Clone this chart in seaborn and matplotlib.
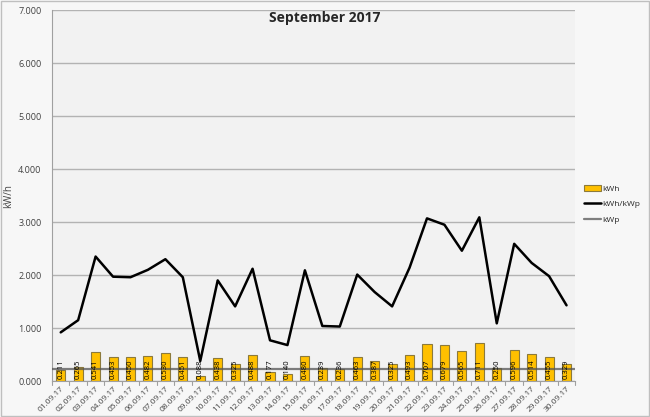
import numpy as np
import pandas as pd
import seaborn as sns
import matplotlib.pyplot as plt
from matplotlib.ticker import FuncFormatter, MultipleLocator
from matplotlib.patches import Patch
from matplotlib.lines import Line2D

days = [f"{d:02d}.09.17" for d in range(1, 31)]
kwh = [0.211, 0.265, 0.541, 0.453, 0.450, 0.482, 0.530, 0.451, 0.088, 0.438,
       0.325, 0.488, 0.177, 0.140, 0.480, 0.239, 0.236, 0.463, 0.387, 0.325,
       0.493, 0.707, 0.679, 0.565, 0.711, 0.250, 0.596, 0.514, 0.455, 0.329]
kwh_kwp = [0.92, 1.15, 2.35, 1.97, 1.96, 2.10, 2.30, 1.96, 0.38, 1.90,
           1.41, 2.12, 0.77, 0.68, 2.09, 1.04, 1.03, 2.01, 1.68, 1.41,
           2.14, 3.07, 2.95, 2.46, 3.09, 1.09, 2.59, 2.23, 1.98, 1.43]
kwp = 0.23

df = pd.DataFrame({"day": days, "kWh": kwh, "kWh/kWp": kwh_kwp})
df["pos"] = np.arange(len(df))

sns.set_style("white")
plt.rcParams["font.family"] = ["Open Sans", "DejaVu Sans"]

fig = plt.figure(figsize=(6.5, 4.17), dpi=100, facecolor="#f7f7f7")
ax = fig.add_axes([0.08, 0.086, 0.805, 0.89])
ax.set_facecolor("#f2f2f2")

# grid first so the marks sit above it
ax.set_axisbelow(True)
ax.yaxis.grid(True, color="#b3b3b3", linewidth=1)

sns.barplot(data=df, x="day", y="kWh", color="#ffc000", width=0.52,
            edgecolor="#8c7a3c", linewidth=0.8, saturation=1, ax=ax, zorder=2)

ax.axhline(kwp, color="#555555", linewidth=1.6, alpha=0.75, zorder=3)

sns.lineplot(data=df, x="pos", y="kWh/kWp", color="black", linewidth=1.8,
             ax=ax, zorder=4)

# data labels, rotated, from the bar base upward
for i, v in enumerate(kwh):
    ax.text(i, 0.04, f"{v:.3f}", rotation=90, ha="center", va="bottom",
            fontsize=5.5, color="black", zorder=5)

ax.set_xlim(-0.5, len(days) - 0.5)
ax.set_ylim(0, 7)
ax.yaxis.set_major_locator(MultipleLocator(1))
ax.yaxis.set_major_formatter(FuncFormatter(lambda v, p: f"{v:.3f}"))
ax.tick_params(axis="y", labelsize=6.5, colors="#404040", length=4, color="#a0a0a0")
ax.set_xticks(np.arange(len(days)))
ax.set_xticklabels(days, rotation=45, ha="right", rotation_mode="anchor",
                   fontsize=6, color="#404040")
ax.tick_params(axis="x", length=0, pad=3)
# category separators like the original
for k in range(len(days) + 1):
    ax.plot([k - 0.5, k - 0.5], [0, -0.08], color="#a0a0a0", lw=0.8,
            clip_on=False)

ax.set_xlabel("")
ax.set_ylabel("kW/h", fontsize=7, color="#404040")
ax.yaxis.set_label_coords(-0.072, 0.5)

for side in ["top", "right"]:
    ax.spines[side].set_visible(False)
ax.spines["left"].set_color("#a0a0a0")
ax.spines["bottom"].set_color("#a0a0a0")

fig.text(0.5, 0.957, "September 2017", ha="center", va="center",
         fontsize=10, fontweight="bold")

handles = [Patch(facecolor="#ffc000", edgecolor="#8c7a3c", linewidth=0.8),
           Line2D([], [], color="black", lw=1.8),
           Line2D([], [], color="#555555", alpha=0.75, lw=1.6)]
fig.legend(handles, ["kWh", "kWh/kWp", "kWp"], loc="center left",
           bbox_to_anchor=(0.89, 0.51), frameon=False, fontsize=6,
           handlelength=2.0, handletextpad=0.2, labelspacing=0.9,
           borderpad=0.2)

fig.patches.append(plt.Rectangle((0.002, 0.002), 0.996, 0.996,
                                 transform=fig.transFigure, fill=False,
                                 edgecolor="#bfbfbf", linewidth=1))

fig.savefig("out.png", dpi=100, facecolor=fig.get_facecolor())
